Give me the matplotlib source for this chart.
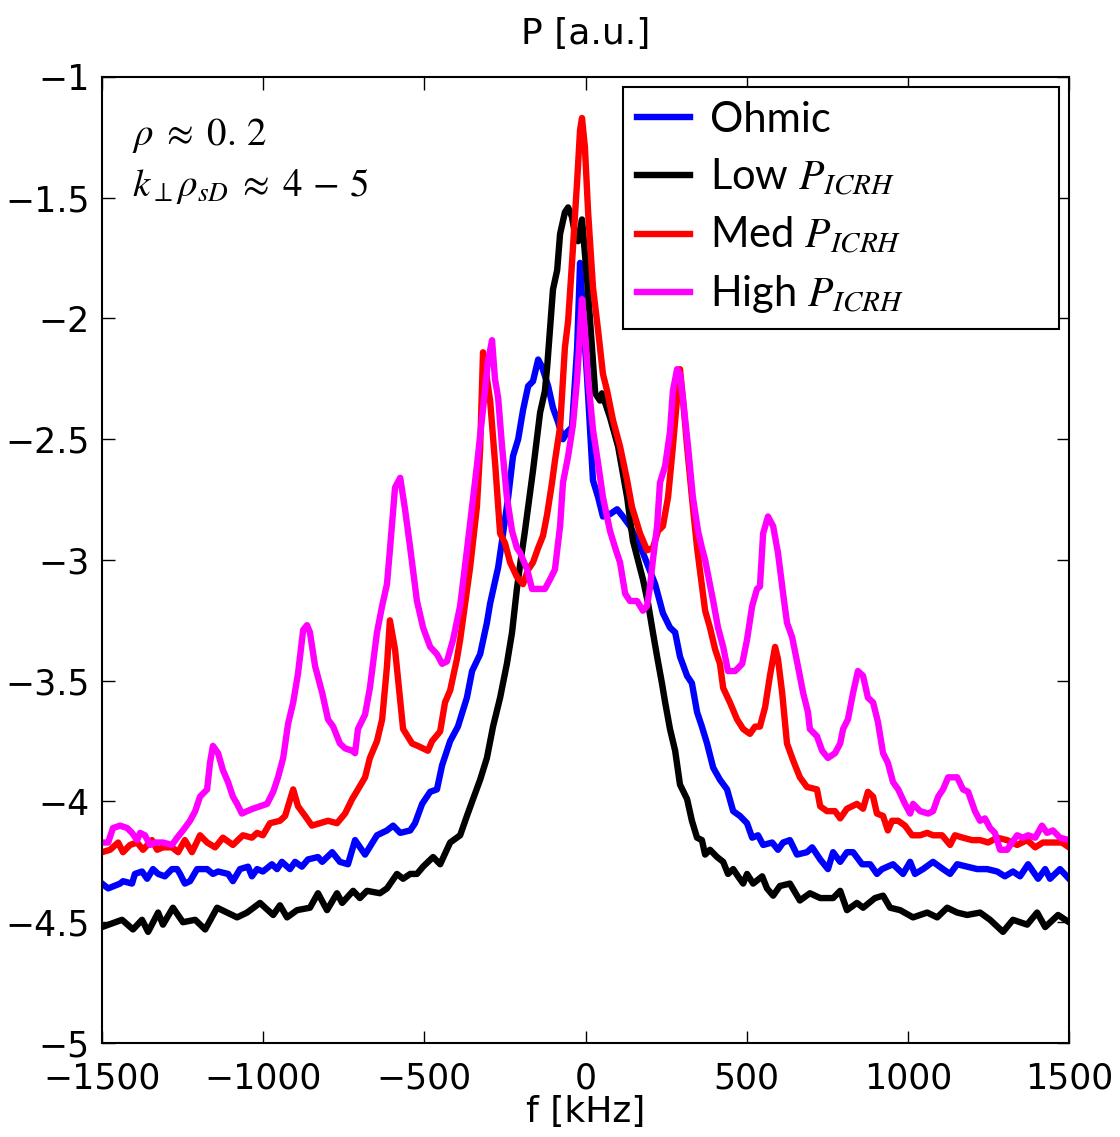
import matplotlib
matplotlib.use("Agg")
import matplotlib.pyplot as plt
from matplotlib.ticker import FuncFormatter

# frequency [kHz] and log power [a.u.]
f_ohmic = [-1500, -1481, -1444, -1435, -1407, -1398, -1376, -1360, -1342, -1326, -1305, -1283,
           -1267, -1258, -1243, -1227, -1205, -1174, -1156, -1140, -1109, -1094, -1072, -1047,
           -1035, -1019, -1001, -973, -957, -942, -917, -901, -880, -861, -830, -817, -786,
           -762, -737, -715, -684, -647, -616, -597, -575, -544, -529, -507, -482, -461, -445,
           -420, -396, -368, -352, -327, -306, -296, -271, -259, -240, -225, -209, -194, -178,
           -163, -147, -135, -116, -101, -85, -70, -57, -42, -26, -17, -8, 5, 14, 23, 39, 54,
           76, 98, 116, 138, 160, 178, 216, 240, 262, 278, 293, 315, 330, 346, 361, 377, 396,
           417, 439, 458, 479, 501, 517, 535, 551, 579, 597, 613, 634, 656, 687, 703, 728, 752,
           768, 790, 811, 830, 858, 883, 904, 920, 954, 985, 1007, 1022, 1047, 1078, 1109, 1131,
           1153, 1184, 1215, 1246, 1277, 1301, 1326, 1348, 1373, 1404, 1426, 1441, 1472, 1500]
p_ohmic = [-4.34, -4.36, -4.34, -4.33, -4.34, -4.30, -4.29, -4.32, -4.28, -4.30, -4.31, -4.28,
           -4.28, -4.30, -4.34, -4.33, -4.28, -4.28, -4.30, -4.29, -4.30, -4.33, -4.28, -4.27,
           -4.31, -4.28, -4.29, -4.26, -4.28, -4.25, -4.28, -4.25, -4.27, -4.24, -4.23, -4.25,
           -4.21, -4.25, -4.26, -4.16, -4.22, -4.14, -4.12, -4.10, -4.13, -4.12, -4.09, -4.01,
           -3.96, -3.95, -3.85, -3.75, -3.69, -3.57, -3.46, -3.39, -3.26, -3.18, -3.03, -2.92,
           -2.74, -2.57, -2.50, -2.38, -2.28, -2.26, -2.17, -2.20, -2.28, -2.37, -2.43, -2.50,
           -2.47, -2.45, -2.12, -1.77, -1.98, -2.25, -2.46, -2.67, -2.74, -2.82, -2.81, -2.79,
           -2.82, -2.86, -2.92, -2.97, -3.10, -3.22, -3.28, -3.30, -3.40, -3.48, -3.51, -3.63,
           -3.69, -3.76, -3.86, -3.91, -3.95, -4.04, -4.06, -4.09, -4.15, -4.14, -4.18, -4.17,
           -4.20, -4.17, -4.16, -4.22, -4.21, -4.19, -4.24, -4.28, -4.21, -4.25, -4.21, -4.21,
           -4.26, -4.26, -4.30, -4.28, -4.26, -4.30, -4.25, -4.30, -4.28, -4.25, -4.28, -4.30,
           -4.26, -4.27, -4.28, -4.28, -4.29, -4.31, -4.29, -4.31, -4.26, -4.32, -4.28, -4.32,
           -4.28, -4.32]

f_low = [-1500, -1438, -1404, -1376, -1357, -1326, -1311, -1280, -1249, -1211, -1180, -1143,
         -1112, -1081, -1050, -1010, -969, -948, -926, -895, -855, -830, -802, -771, -755, -721,
         -700, -678, -638, -616, -585, -566, -544, -523, -504, -473, -451, -420, -389, -368,
         -349, -327, -306, -287, -265, -244, -228, -213, -203, -188, -163, -141, -126, -119,
         -101, -88, -79, -64, -54, -42, -33, -23, -11, 5, 20, 30, 45, 51, 76, 101, 129, 147,
         178, 194, 209, 222, 237, 247, 262, 278, 293, 315, 330, 346, 361, 371, 386, 408, 427,
         442, 458, 473, 489, 501, 520, 548, 563, 582, 603, 634, 665, 696, 728, 768, 790, 811,
         842, 861, 898, 923, 945, 976, 1016, 1060, 1091, 1122, 1153, 1184, 1224, 1255, 1295,
         1326, 1370, 1401, 1426, 1466, 1500]
p_low = [-4.52, -4.49, -4.53, -4.49, -4.54, -4.46, -4.51, -4.44, -4.50, -4.49, -4.53, -4.44,
         -4.46, -4.48, -4.46, -4.42, -4.47, -4.43, -4.48, -4.45, -4.44, -4.38, -4.45, -4.38,
         -4.42, -4.37, -4.40, -4.37, -4.38, -4.36, -4.30, -4.32, -4.30, -4.30, -4.27, -4.23,
         -4.26, -4.17, -4.14, -4.06, -3.99, -3.91, -3.82, -3.69, -3.57, -3.43, -3.30, -3.12,
         -3.02, -2.88, -2.63, -2.39, -2.30, -2.20, -1.88, -1.80, -1.65, -1.56, -1.54, -1.58,
         -1.65, -1.68, -1.59, -1.84, -2.12, -2.31, -2.34, -2.31, -2.41, -2.53, -2.74, -2.92,
         -3.08, -3.18, -3.30, -3.40, -3.51, -3.59, -3.70, -3.79, -3.93, -3.99, -4.08, -4.15,
         -4.16, -4.22, -4.20, -4.23, -4.25, -4.30, -4.28, -4.31, -4.34, -4.30, -4.34, -4.31,
         -4.36, -4.39, -4.35, -4.34, -4.41, -4.38, -4.40, -4.40, -4.37, -4.45, -4.42, -4.44,
         -4.40, -4.39, -4.44, -4.45, -4.48, -4.46, -4.48, -4.44, -4.46, -4.47, -4.46, -4.49,
         -4.54, -4.49, -4.51, -4.46, -4.52, -4.47, -4.50]

f_med = [-1500, -1475, -1450, -1435, -1413, -1391, -1373, -1345, -1329, -1311, -1283, -1264,
         -1243, -1221, -1196, -1174, -1149, -1125, -1094, -1063, -1035, -1019, -1001, -979,
         -948, -932, -907, -892, -870, -849, -824, -799, -771, -746, -724, -706, -684, -669,
         -647, -631, -616, -607, -591, -575, -566, -538, -520, -489, -476, -451, -436, -420,
         -399, -389, -358, -337, -327, -318, -296, -280, -265, -250, -234, -213, -194, -178,
         -163, -147, -132, -119, -104, -95, -79, -64, -54, -42, -26, -17, -11, -2, 8, 23, 39,
         54, 67, 85, 107, 129, 144, 169, 191, 209, 225, 240, 256, 271, 284, 293, 302, 315, 330,
         346, 371, 386, 402, 417, 427, 448, 470, 489, 510, 526, 541, 557, 572, 588, 597, 610,
         625, 644, 665, 687, 718, 728, 749, 774, 790, 811, 842, 861, 876, 892, 904, 923, 938,
         951, 970, 991, 1013, 1038, 1060, 1078, 1106, 1131, 1146, 1171, 1199, 1224, 1249, 1277,
         1308, 1339, 1370, 1395, 1419, 1450, 1478, 1500]
p_med = [-4.21, -4.20, -4.17, -4.21, -4.18, -4.17, -4.20, -4.16, -4.20, -4.19, -4.19, -4.21,
         -4.16, -4.21, -4.14, -4.17, -4.19, -4.15, -4.18, -4.14, -4.15, -4.13, -4.14, -4.09,
         -4.08, -4.06, -3.95, -4.02, -4.06, -4.10, -4.09, -4.08, -4.09, -4.05, -3.99, -3.95,
         -3.90, -3.82, -3.75, -3.66, -3.44, -3.25, -3.37, -3.58, -3.70, -3.76, -3.77, -3.79,
         -3.75, -3.71, -3.59, -3.54, -3.41, -3.33, -3.03, -2.78, -2.54, -2.14, -2.34, -2.61,
         -2.89, -2.93, -3.01, -3.07, -3.10, -3.04, -3.01, -2.95, -2.90, -2.81, -2.68, -2.59,
         -2.45, -2.12, -2.01, -1.77, -1.43, -1.22, -1.17, -1.29, -1.56, -1.87, -2.05, -2.23,
         -2.30, -2.42, -2.53, -2.67, -2.78, -2.89, -2.96, -2.95, -2.88, -2.86, -2.74, -2.53,
         -2.33, -2.21, -2.33, -2.53, -2.74, -2.95, -3.21, -3.28, -3.37, -3.43, -3.53, -3.59,
         -3.66, -3.70, -3.72, -3.69, -3.69, -3.61, -3.48, -3.36, -3.41, -3.55, -3.76, -3.83,
         -3.90, -3.94, -3.95, -4.02, -4.04, -4.04, -4.07, -4.03, -4.01, -4.03, -3.96, -3.98,
         -4.05, -4.06, -4.12, -4.08, -4.08, -4.10, -4.14, -4.14, -4.13, -4.14, -4.14, -4.18,
         -4.14, -4.15, -4.16, -4.16, -4.17, -4.15, -4.16, -4.18, -4.16, -4.19, -4.17, -4.17,
         -4.17, -4.19]

f_high = [-1500, -1481, -1466, -1444, -1422, -1407, -1391, -1382, -1367, -1351, -1336, -1311,
          -1283, -1267, -1249, -1227, -1211, -1196, -1174, -1165, -1156, -1140, -1125, -1109,
          -1094, -1081, -1066, -1050, -1032, -1010, -988, -969, -954, -938, -923, -907, -892,
          -876, -864, -855, -839, -817, -799, -783, -762, -746, -724, -715, -706, -684, -669,
          -647, -631, -616, -607, -591, -575, -560, -544, -523, -504, -482, -461, -445, -430,
          -411, -389, -368, -352, -337, -321, -312, -303, -290, -281, -271, -259, -244, -228,
          -213, -203, -181, -166, -147, -126, -110, -95, -79, -70, -54, -39, -26, -17, -11, -2,
          8, 23, 39, 54, 76, 92, 107, 123, 138, 160, 178, 191, 200, 209, 222, 231, 247, 262,
          271, 284, 293, 302, 318, 333, 349, 361, 371, 396, 411, 427, 442, 464, 486, 501, 517,
          532, 541, 551, 566, 582, 597, 613, 625, 641, 659, 675, 690, 696, 718, 734, 752, 774,
          790, 799, 814, 830, 845, 861, 876, 892, 907, 923, 938, 954, 970, 991, 1007, 1016,
          1038, 1063, 1078, 1094, 1109, 1125, 1153, 1171, 1187, 1208, 1224, 1239, 1255, 1270,
          1286, 1308, 1323, 1339, 1357, 1373, 1395, 1416, 1432, 1450, 1472, 1500]
p_high = [-4.17, -4.17, -4.11, -4.10, -4.11, -4.13, -4.16, -4.13, -4.14, -4.18, -4.17, -4.17,
          -4.18, -4.15, -4.12, -4.08, -4.04, -3.98, -3.95, -3.84, -3.77, -3.80, -3.87, -3.92,
          -3.98, -4.01, -4.05, -4.04, -4.03, -4.02, -4.01, -3.96, -3.90, -3.82, -3.68, -3.59,
          -3.47, -3.29, -3.27, -3.30, -3.44, -3.55, -3.66, -3.69, -3.76, -3.78, -3.79, -3.80,
          -3.70, -3.64, -3.53, -3.30, -3.19, -3.10, -2.96, -2.70, -2.66, -2.79, -2.95, -3.17,
          -3.28, -3.36, -3.39, -3.43, -3.42, -3.33, -3.19, -2.96, -2.78, -2.61, -2.41, -2.30,
          -2.18, -2.09, -2.25, -2.33, -2.53, -2.74, -2.88, -2.95, -2.97, -3.04, -3.12, -3.12,
          -3.12, -3.08, -3.04, -2.86, -2.68, -2.57, -2.44, -2.25, -2.05, -1.92, -2.05, -2.25,
          -2.46, -2.60, -2.74, -2.88, -2.95, -3.01, -3.14, -3.17, -3.17, -3.21, -3.19, -3.11,
          -3.00, -2.86, -2.68, -2.61, -2.47, -2.30, -2.21, -2.23, -2.33, -2.53, -2.74, -2.88,
          -2.95, -3.00, -3.17, -3.28, -3.36, -3.46, -3.46, -3.43, -3.33, -3.19, -3.12, -3.11,
          -2.89, -2.82, -2.86, -2.97, -3.14, -3.26, -3.32, -3.44, -3.55, -3.63, -3.70, -3.73,
          -3.79, -3.82, -3.80, -3.76, -3.70, -3.66, -3.55, -3.46, -3.48, -3.57, -3.59, -3.67,
          -3.80, -3.84, -3.92, -3.95, -4.01, -4.05, -4.01, -4.04, -4.05, -4.04, -3.98, -3.95,
          -3.90, -3.90, -3.95, -3.96, -4.04, -4.08, -4.07, -4.11, -4.13, -4.20, -4.20, -4.17,
          -4.14, -4.15, -4.14, -4.15, -4.10, -4.13, -4.12, -4.15, -4.16]

labels = ['Ohmic', 'Low $P_{ICRH}$', 'Med $P_{ICRH}$', 'High $P_{ICRH}$']
colors = ['#0000ff', '#000000', '#ff0000', '#ff00ff']

plt.rcParams['mathtext.fontset'] = 'stix'
plt.rcParams['font.family'] = ['DejaVu Sans']

fig = plt.figure(figsize=(11.2, 11.37), dpi=100)
ax = fig.add_axes([0.0911, 0.0827, 0.8634, 0.8496])

series = [(f_ohmic, p_ohmic), (f_low, p_low), (f_med, p_med), (f_high, p_high)]
for (f, p), lab, c in zip(series, labels, colors):
    ax.plot(f, p, color=c, lw=4.6, label=lab)

ax.set_xlim(-1500, 1500)
ax.set_ylim(-5, -1)
ax.set_xticks([-1500, -1000, -500, 0, 500, 1000, 1500])
ax.set_yticks([-5, -4.5, -4, -3.5, -3, -2.5, -2, -1.5, -1])
fmt = FuncFormatter(lambda v, pos: ('%g' % v).replace('-', '\u2212'))
ax.xaxis.set_major_formatter(fmt)
ax.yaxis.set_major_formatter(fmt)
ax.tick_params(direction='in', length=9, width=1, top=True, right=True, labelsize=25)
ax.tick_params(axis='x', pad=13)
ax.tick_params(axis='y', pad=9)
for s in ax.spines.values():
    s.set_linewidth(1.5)

ax.set_title('P [a.u.]', fontsize=26, pad=24)
ax.set_xlabel('f [kHz]', fontsize=26, labelpad=0)

ax.text(0.031, 0.93, r'$\rho\;\approx\;0.\,2$', transform=ax.transAxes, fontsize=28)
ax.text(0.031, 0.877, r'$k_{\perp}\rho_{sD}\;\approx\;4\,-\,5$', transform=ax.transAxes,
        fontsize=28)

leg = ax.legend(loc='upper left', bbox_to_anchor=(0.5388, 0.70, 0.451, 0.2896),
                mode='expand', borderaxespad=0, fancybox=False, framealpha=1,
                edgecolor='black', handlelength=1.27, handletextpad=0.48,
                labelspacing=0.41, borderpad=0.33,
                prop={'family': 'Lato', 'size': 30})
leg.get_frame().set_linewidth(1.5)

fig.savefig('out.png', dpi=100)
